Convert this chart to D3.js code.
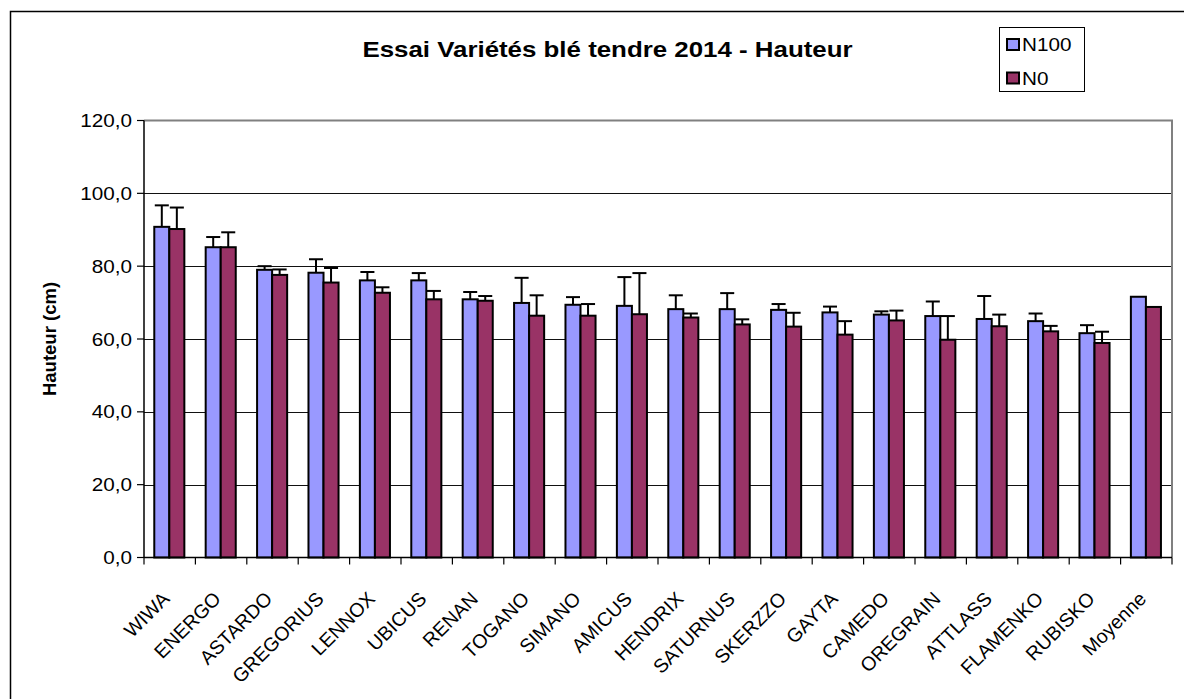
<!DOCTYPE html>
<html><head><meta charset="utf-8">
<script src="https://cdn.jsdelivr.net/npm/d3@7"></script>
<style>
html,body{margin:0;padding:0;background:#fff;}
svg{display:block;font-family:"Liberation Sans",Arial,sans-serif;}
</style></head>
<body>
<svg id="chart" width="1184" height="699"></svg>
<script>
const categories = ["WIWA","ENERGO","ASTARDO","GREGORIUS","LENNOX","UBICUS","RENAN","TOGANO","SIMANO","AMICUS","HENDRIX","SATURNUS","SKERZZO","GAYTA","CAMEDO","OREGRAIN","ATTLASS","FLAMENKO","RUBISKO","Moyenne"];
const seriesNames = ["N100","N0"];
const n100 = [90.8,85.2,79.0,78.2,76.1,76.1,70.9,69.9,69.4,69.1,68.2,68.2,68.0,67.3,66.7,66.3,65.5,64.9,61.6,71.6];
const n0 = [90.2,85.2,77.6,75.5,72.7,70.9,70.5,66.4,66.4,66.8,65.9,64.0,63.4,61.2,65.1,59.8,63.5,62.1,58.9,68.8];
const n100Err = [5.9,2.8,1.0,3.7,2.3,2.0,2.0,6.9,2.1,7.9,3.8,4.4,1.6,1.6,0.9,4.0,6.3,2.1,2.2,null];
const n0Err = [5.9,4.1,1.5,4.0,1.5,2.3,1.3,5.6,3.2,11.3,1.1,1.4,3.8,3.7,2.7,6.5,3.2,1.5,3.1,null];
const yTicks = [0,20,40,60,80,100,120];
const colors = {"N100":"#9999FF","N0":"#993366"};
const title = "Essai Variétés blé tendre 2014 - Hauteur";
const yTitle = "Hauteur (cm)";

(function(){
const SX = 1.15; // horizontal stretch of the original text rendering
const svg = d3.select("#chart");
const pL = 144, pR = 1172, pT = 120.5, pB = 557.5;

const locale = d3.formatLocale({decimal: ",", thousands: " ", grouping: [3], currency: ["", "€"]});
const fmt = locale.format(".1f");

const x0 = d3.scaleBand().domain(categories).range([pL, pR]).padding(0);
const bw = x0.bandwidth();
const x1 = d3.scaleBand().domain(seriesNames).range([bw*0.2, bw*0.785]).padding(0);
const y = d3.scaleLinear().domain([0,120]).range([pB, pT]);

// outer border
svg.append("rect").attr("x",10.5).attr("y",11.5).attr("width",1300).attr("height",800)
  .attr("fill","none").attr("stroke","#000").attr("stroke-width",1.5);

// gridlines
svg.append("g").selectAll("line").data(yTicks.filter(d=>d>0 && d<120)).join("line")
  .attr("x1",pL).attr("x2",pR).attr("y1",d=>Math.round(y(d))+0.5).attr("y2",d=>Math.round(y(d))+0.5)
  .attr("stroke","#111").attr("stroke-width",1);

// plot area border (top/right gray)
svg.append("path").attr("d",`M${pL},${pT} H${pR} V${pB}`)
  .attr("fill","none").attr("stroke","#808080").attr("stroke-width",2);

const data = categories.map((c,i)=>({cat:c, vals:[
  {s:"N100", v:n100[i], e:n100Err[i]},
  {s:"N0", v:n0[i], e:n0Err[i]}]}));

const groups = svg.append("g").selectAll("g").data(data).join("g")
  .attr("transform",d=>`translate(${x0(d.cat)},0)`);

groups.selectAll("rect").data(d=>d.vals).join("rect")
  .attr("x",d=>x1(d.s)).attr("width",x1.bandwidth())
  .attr("y",d=>y(d.v)).attr("height",d=>y(0)-y(d.v))
  .attr("fill",d=>colors[d.s]).attr("stroke","#000").attr("stroke-width",2);

// error bars
const eb = groups.selectAll("g.err").data(d=>d.vals.filter(v=>v.e!=null)).join("g").attr("class","err");
eb.append("line")
  .attr("x1",d=>x1(d.s)+x1.bandwidth()/2).attr("x2",d=>x1(d.s)+x1.bandwidth()/2)
  .attr("y1",d=>y(d.v)).attr("y2",d=>y(d.v+d.e))
  .attr("stroke","#000").attr("stroke-width",2);
eb.append("line")
  .attr("x1",d=>x1(d.s)+0.5).attr("x2",d=>x1(d.s)+x1.bandwidth()-0.5)
  .attr("y1",d=>y(d.v+d.e)).attr("y2",d=>y(d.v+d.e))
  .attr("stroke","#000").attr("stroke-width",2);

// y axis
const yAxis = svg.append("g");
yAxis.append("line").attr("x1",pL).attr("x2",pL).attr("y1",pT).attr("y2",pB)
  .attr("stroke","#000").attr("stroke-width",1.5);
yAxis.selectAll("line.tick").data(yTicks).join("line").attr("class","tick")
  .attr("x1",pL-7).attr("x2",pL).attr("y1",d=>y(d)).attr("y2",d=>y(d))
  .attr("stroke","#000").attr("stroke-width",1.2);
yAxis.selectAll("text").data(yTicks).join("text")
  .attr("transform",d=>`translate(132,${y(d)+6.5}) scale(${SX},1)`)
  .attr("text-anchor","end").attr("font-size",18).attr("fill","#000").text(d=>fmt(d));

// x axis
const xAxis = svg.append("g");
xAxis.append("line").attr("x1",pL).attr("x2",pR).attr("y1",pB).attr("y2",pB)
  .attr("stroke","#000").attr("stroke-width",1.5);
const bounds = categories.map(c=>x0(c)).concat([pR]);
xAxis.selectAll("line.tick").data(bounds).join("line").attr("class","tick")
  .attr("x1",d=>d).attr("x2",d=>d).attr("y1",pB).attr("y2",pB+7)
  .attr("stroke","#000").attr("stroke-width",1.2);
xAxis.selectAll("text").data(categories).join("text")
  .attr("transform",d=>`translate(${x0(d)+bw/2+1},600) rotate(-45)`)
  .attr("text-anchor","end").attr("font-size",19.5).attr("fill","#000").text(d=>d);

// y title
svg.append("text").attr("transform",`translate(56,339) rotate(-90)`)
  .attr("text-anchor","middle").attr("font-size",18.5).attr("font-weight","bold").text(yTitle);

// title
svg.append("text").attr("transform",`translate(607.5,56.5) scale(${SX},1)`)
  .attr("text-anchor","middle").attr("font-size",22.5).attr("font-weight","bold").text(title);

// legend
const lg = svg.append("g");
lg.append("rect").attr("x",999.5).attr("y",27.5).attr("width",85).attr("height",64)
  .attr("fill","#fff").attr("stroke","#000").attr("stroke-width",1);
const li = lg.selectAll("g.item").data(seriesNames).join("g").attr("class","item")
  .attr("transform",(d,i)=>`translate(1007,${39+i*33.5})`);
li.append("rect").attr("x",0).attr("y",0).attr("width",12).attr("height",11)
  .attr("fill",d=>colors[d]).attr("stroke","#000").attr("stroke-width",2);
li.append("text").attr("transform",`translate(15,12) scale(${SX},1)`)
  .attr("font-size",18).attr("fill","#000").text(d=>d);
})();
</script>
</body></html>
